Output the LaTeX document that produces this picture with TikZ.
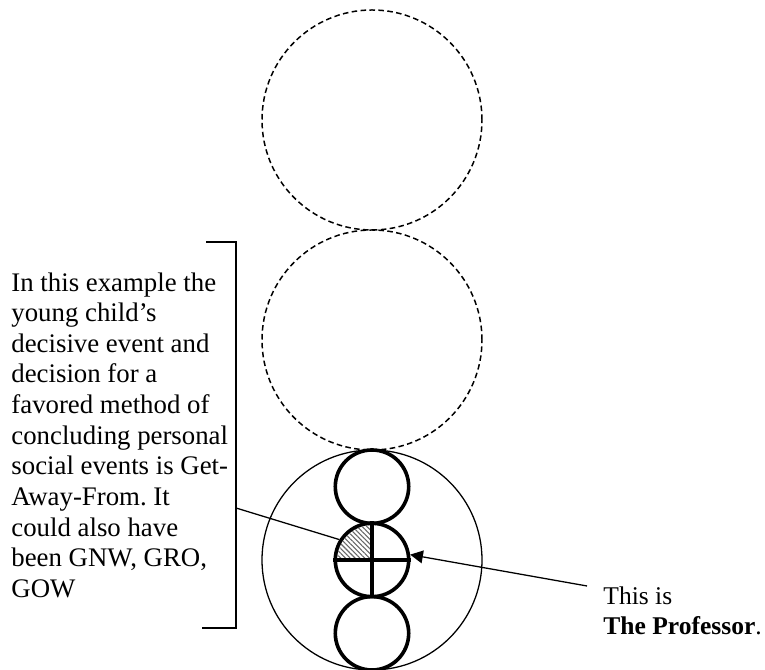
\documentclass[tikz,border=0pt]{standalone}
\usepackage{fontspec}
\setmainfont{Liberation Serif}
\usetikzlibrary{positioning,arrows.meta,patterns.meta}
\frenchspacing

\begin{document}
\begin{tikzpicture}[x=0.47pt, y=0.47pt,
  ghost/.style={circle, draw, dash pattern=on 2.6pt off 1.6pt, line width=0.7pt,
                minimum size=103.4pt, inner sep=0pt},
  whole/.style={circle, draw, line width=0.6pt, minimum size=103.4pt, inner sep=0pt},
  part/.style={circle, draw, line width=1.7pt, minimum size=34.5pt, inner sep=0pt},
  hatch/.style={pattern={Lines[angle=-45, distance=1.6pt, line width=0.5pt]}, pattern color=black!60},
  txt/.style={font=\fontsize{#1}{14.4}\selectfont, align=left, inner sep=0pt},
  ar/.style={-{Triangle[length=6pt, width=6pt]}, line width=0.6pt}
]
\useasboundingbox (0,0) rectangle (765,670);
\def\cx{372}

% upper (dashed) circles
\node[ghost] (up1) at (\cx,550) {};
\node[ghost] (up2) at (\cx,330) {};

% the whole and its three parts
\node[whole] (whole) at (\cx,110) {};
\node[part] (ptop) at (\cx,183.3) {};
\node[part] (pmid) at (\cx,110) {};
\node[part] (pbot) at (\cx,36.7) {};

\fill[hatch] (pmid.center) -- ++(-35,0) arc[start angle=180, end angle=90, radius=35] -- cycle;
\draw[line width=1.5pt] (pmid.north) -- (pmid.south);
\draw[line width=1.5pt] (pmid.west) -- (pmid.east);

% bracket with its note
\draw[line width=0.75pt] (206,428) -- (236,428) -- (236,42) -- (202,42);
\coordinate (brk) at (236,162);
\draw[line width=0.6pt] (brk) -- (pmid.148);

\node[txt=12.6, anchor=north west] (story) at (11,398) {In this example the\\
young child’s\\
decisive event and\\
decision for a\\
favored method of\\
concluding personal\\
social events is Get-\\
Away-From. It\\
could also have\\
been GNW, GRO,\\
GOW};

% pointer to the professor
\node[txt=12, anchor=north west] (prof) at (603,84) {This is\\ \textbf{The Professor}.};
\coordinate (ptr) at (587,84);
\draw[ar] (ptr) -- (pmid.8);

\end{tikzpicture}
\end{document}
